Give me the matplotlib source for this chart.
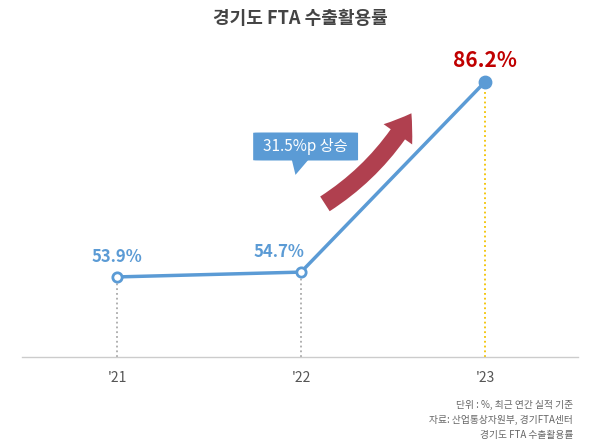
import matplotlib.pyplot as plt
from matplotlib.patches import FancyBboxPatch

plt.rcParams['font.family'] = ['Noto Sans CJK KR', 'DejaVu Sans']

years = ["'21", "'22", "'23"]
rates = [53.9, 54.7, 86.2]
labels = ['53.9%', '54.7%', '86.2%']

blue = '#5b9bd5'
fig = plt.figure(figsize=(6, 4.43), dpi=100)
ax = fig.add_axes([0, 0, 1, 1])
ax.set_xlim(-0.636, 2.625)
ax.set_ylim(26.4, 99.76)
ax.axis('off')
base = 40.7

ax.plot([-0.516, 2.505], [base, base], color='#cccccc', lw=1)
x = list(range(len(years)))
for i in x:
    c = '#f2c200' if i == 2 else '#aaaaaa'
    ax.plot([i, i], [base, rates[i]], color=c, ls=':', lw=1.3, zorder=1)
    ax.text(i, base - 3.5, years[i], ha='center', va='center', fontsize=10, color='#555555')
ax.plot(x, rates, color=blue, lw=2.5, zorder=2)
ax.scatter(x[:2], rates[:2], s=45, facecolor='white', edgecolor=blue, lw=2, zorder=3)
ax.scatter(x[2], rates[2], s=80, color=blue, zorder=3)
ax.text(0, rates[0] + 2.5, labels[0], ha='center', fontsize=12, fontweight='bold', color=blue)
ax.text(0.88, rates[1] + 2.5, labels[1], ha='center', fontsize=12, fontweight='bold', color=blue)
ax.text(2, rates[2] + 2.4, labels[2], ha='center', fontsize=15, fontweight='bold', color='#c00000')

ax.text(0.5, 0.958, '경기도 FTA 수출활용률', transform=ax.transAxes, ha='center', va='center',
        fontsize=13, fontweight='bold', color='#444444')

# rising arrow
ax.annotate('', xy=(1.6, 81.0), xytext=(1.13, 66.0),
            arrowprops=dict(arrowstyle='simple,head_length=1.0,head_width=1.4,tail_width=0.7',
                            connectionstyle='arc3,rad=0.12', color='#b0404f', lw=0,
                            mutation_scale=18, shrinkA=0, shrinkB=0), zorder=2)
# callout
ax.add_patch(FancyBboxPatch((0.76, 73.2), 0.53, 4.6, boxstyle='round,pad=0.02,rounding_size=0.05',
                            color=blue, lw=0, zorder=4))
ax.fill([0.95, 1.04, 0.97], [73.3, 73.3, 70.8], color=blue, lw=0, zorder=4)
ax.text(1.025, 75.5, '31.5%p 상승', ha='center', va='center', fontsize=11, color='white', zorder=5)

src = ['단위 : %, 최근 연간 실적 기준', '자료: 산업통상자원부, 경기FTA센터', '경기도 FTA 수출활용률']
for k, s in enumerate(src):
    ax.text(0.955, 0.085 - k * 0.033, s, transform=ax.transAxes, ha='right', va='center',
            fontsize=7, color='#666666')

fig.savefig('out.png', dpi=100)
